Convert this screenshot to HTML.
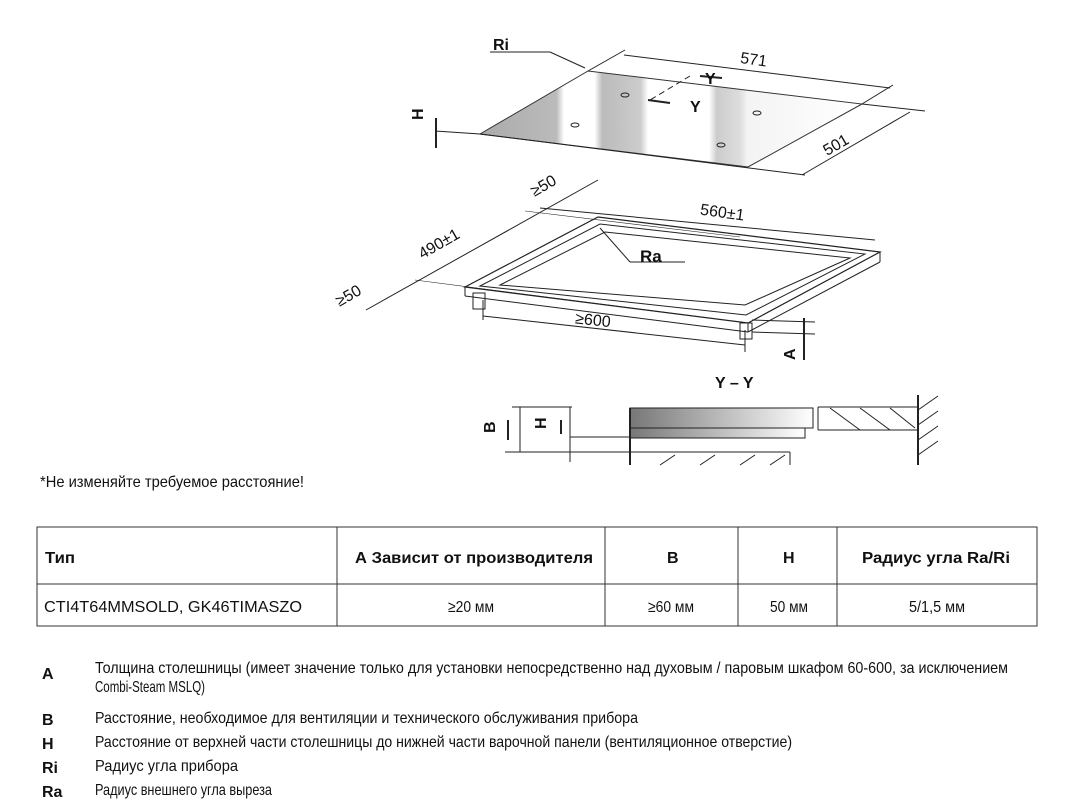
<!DOCTYPE html>
<html><head><meta charset="utf-8"><style>
html,body{margin:0;padding:0;background:#fff;width:1092px;height:805px;overflow:hidden}
svg{display:block}
text{font-family:"Liberation Sans",sans-serif;fill:#111}
</style></head><body>
<svg width="1092" height="805" viewBox="0 0 1092 805" xmlns="http://www.w3.org/2000/svg">
<defs>
<linearGradient id="g1" x1="0" x2="1" y1="0" y2="0">
<stop offset="0" stop-color="#777"/><stop offset="1" stop-color="#fff"/></linearGradient>
<linearGradient id="hob" x1="0" x2="1" y1="0" y2="0">
<stop offset="0" stop-color="#aaa"/><stop offset="0.2" stop-color="#bbb"/><stop offset="0.22" stop-color="#fff"/><stop offset="0.3" stop-color="#fff"/><stop offset="0.32" stop-color="#bbb"/><stop offset="0.42" stop-color="#ccc"/><stop offset="0.44" stop-color="#fff"/><stop offset="0.6" stop-color="#fff"/><stop offset="0.62" stop-color="#ccc"/><stop offset="0.68" stop-color="#ddd"/><stop offset="0.7" stop-color="#f4f4f4"/><stop offset="1" stop-color="#fff"/></linearGradient>
</defs>
<g stroke="#222" fill="none" stroke-width="1">
<polygon points="480,134 588,71 862,104 748,167" fill="url(#hob)" stroke="#333"/>
<line x1="480" y1="134" x2="805" y2="175"/>
<line x1="435" y1="131" x2="480" y2="134"/>
<line x1="436" y1="118" x2="436" y2="148" stroke-width="2"/>
<line x1="490" y1="52" x2="550" y2="52"/><line x1="550" y1="52" x2="585" y2="68"/>
<line x1="624" y1="55" x2="890" y2="88"/>
<line x1="588" y1="71" x2="625" y2="50"/><line x1="862" y1="104" x2="893" y2="85"/>
<line x1="862" y1="104" x2="925" y2="111"/>
<line x1="910" y1="112" x2="802" y2="175"/>
<line x1="690" y1="76" x2="650" y2="100" stroke-dasharray="6,4"/>
<line x1="700" y1="76" x2="722" y2="78" stroke-width="2"/>
<line x1="648" y1="100" x2="670" y2="103" stroke-width="2"/>
<ellipse cx="625" cy="95" rx="4" ry="2"/><ellipse cx="575" cy="125" rx="4" ry="2"/>
<ellipse cx="757" cy="113" rx="4" ry="2"/><ellipse cx="721" cy="145" rx="4" ry="2"/>
<polygon points="465,287 598,217 880,252 748,323" stroke-width="1.2"/>
<polygon points="480,286 600,224 865,254 746,315"/>
<polygon points="500,285 605,232 850,258 745,305"/>
<line x1="465" y1="287" x2="465" y2="296"/><line x1="465" y1="296" x2="748" y2="332"/>
<line x1="748" y1="323" x2="748" y2="332"/><line x1="748" y1="332" x2="880" y2="262"/>
<line x1="880" y1="252" x2="880" y2="262"/>
<rect x="473" y="293" width="12" height="16"/><rect x="740" y="323" width="12" height="16"/>
<line x1="366" y1="310" x2="598" y2="180"/>
<line x1="415" y1="280" x2="748" y2="323" stroke-width="0.6"/>
<line x1="525" y1="211" x2="740" y2="237" stroke-width="0.6"/>
<line x1="540" y1="208" x2="875" y2="240"/>
<line x1="600" y1="228" x2="630" y2="262"/><line x1="630" y1="262" x2="685" y2="262"/>
<line x1="483" y1="300" x2="483" y2="320"/><line x1="745" y1="330" x2="745" y2="352"/>
<line x1="483" y1="316" x2="745" y2="345"/>
<line x1="752" y1="320" x2="815" y2="322"/><line x1="752" y1="332" x2="815" y2="334"/>
<line x1="804" y1="318" x2="804" y2="360" stroke-width="2"/>
<line x1="512" y1="407" x2="572" y2="407"/>
<line x1="520" y1="407" x2="520" y2="452"/><line x1="570" y1="407" x2="570" y2="462"/>
<line x1="505" y1="452" x2="790" y2="452"/>
<line x1="570" y1="437" x2="800" y2="437"/>
<line x1="508" y1="420" x2="508" y2="440" stroke-width="2"/>
<line x1="561" y1="420" x2="561" y2="434" stroke-width="2"/>
<rect x="630" y="408" width="183" height="20" fill="url(#g1)"/>
<rect x="630" y="428" width="175" height="10" fill="url(#g1)"/>
<line x1="630" y1="408" x2="630" y2="465" stroke-width="2"/>
<line x1="790" y1="452" x2="790" y2="465"/>
<line x1="818" y1="407" x2="918" y2="407"/><line x1="818" y1="430" x2="918" y2="430"/>
<line x1="818" y1="407" x2="818" y2="430"/>
<line x1="918" y1="395" x2="918" y2="465" stroke-width="2"/>
<g stroke-width="1">
<line x1="830" y1="408" x2="860" y2="430"/><line x1="860" y1="408" x2="890" y2="430"/><line x1="890" y1="408" x2="915" y2="428"/>
<line x1="918" y1="410" x2="938" y2="396"/><line x1="918" y1="425" x2="938" y2="411"/><line x1="918" y1="440" x2="938" y2="426"/><line x1="918" y1="455" x2="938" y2="441"/>
<line x1="660" y1="465" x2="675" y2="455"/><line x1="700" y1="465" x2="715" y2="455"/><line x1="740" y1="465" x2="755" y2="455"/><line x1="770" y1="465" x2="785" y2="455"/>
</g>
<rect x="37" y="527" width="1000" height="99" stroke="#333"/>
<line x1="37" y1="584" x2="1037" y2="584" stroke="#333"/>
<line x1="337" y1="527" x2="337" y2="626" stroke="#333"/>
<line x1="605" y1="527" x2="605" y2="626" stroke="#333"/>
<line x1="738" y1="527" x2="738" y2="626" stroke="#333"/>
<line x1="837" y1="527" x2="837" y2="626" stroke="#333"/>
</g>
<g font-size="16">
<text x="493" y="50" font-weight="bold" font-size="16">Ri</text>
<text x="740" y="65" transform="rotate(8 755 62)">571</text>
<text x="705" y="84" font-weight="bold">Y</text>
<text x="690" y="112" font-weight="bold">Y</text>
<text x="820" y="150" transform="rotate(-30 835 140)">501</text>
<text x="410" y="113" transform="rotate(-90 420 110)" font-weight="bold">H</text>
<text x="700" y="218" transform="rotate(8 725 214)">560±1</text>
<text x="415" y="248" transform="rotate(-30 440 240)">490±1</text>
<text x="530" y="190" transform="rotate(-30 545 185)">≥50</text>
<text x="335" y="300" transform="rotate(-30 350 295)">≥50</text>
<text x="640" y="262" font-weight="bold" font-size="17">Ra</text>
<text x="575" y="325" transform="rotate(6 590 322)">≥600</text>
<text x="780" y="355" transform="rotate(-90 790 350)" font-weight="bold">A</text>
<text x="715" y="388" font-weight="bold" font-size="16">Y – Y</text>
<text x="485" y="433" transform="rotate(-90 490 428)" font-weight="bold">B</text>
<text x="537" y="428" transform="rotate(-90 542 424)" font-weight="bold">H</text>
</g>
<g font-size="16">
<text x="40" y="487" textLength="264" lengthAdjust="spacingAndGlyphs">*Не изменяйте требуемое расстояние!</text>
<text x="45" y="563" font-weight="bold" textLength="30" lengthAdjust="spacingAndGlyphs">Тип</text>
<text x="355" y="563" font-weight="bold" textLength="238" lengthAdjust="spacingAndGlyphs">А Зависит от производителя</text>
<text x="667" y="563" font-weight="bold">B</text>
<text x="783" y="563" font-weight="bold">H</text>
<text x="862" y="563" font-weight="bold" textLength="148" lengthAdjust="spacingAndGlyphs">Радиус угла Ra/Ri</text>
<text x="44" y="612" textLength="258" lengthAdjust="spacingAndGlyphs">CTI4T64MMSOLD, GK46TIMASZO</text>
<text x="448" y="612" textLength="46" lengthAdjust="spacingAndGlyphs">≥20 мм</text>
<text x="648" y="612" textLength="46" lengthAdjust="spacingAndGlyphs">≥60 мм</text>
<text x="770" y="612" textLength="38" lengthAdjust="spacingAndGlyphs">50 мм</text>
<text x="909" y="612" textLength="56" lengthAdjust="spacingAndGlyphs">5/1,5 мм</text>
<text x="42" y="679" font-weight="bold">A</text>
<text x="95" y="673" textLength="913" lengthAdjust="spacingAndGlyphs">Толщина столешницы (имеет значение только для установки непосредственно над духовым / паровым шкафом 60-600,  за исключением</text>
<text x="95" y="692" textLength="110" lengthAdjust="spacingAndGlyphs">Combi-Steam MSLQ)</text>
<text x="42" y="725" font-weight="bold">B</text>
<text x="95" y="723" textLength="543" lengthAdjust="spacingAndGlyphs">Расстояние, необходимое для вентиляции и технического обслуживания  прибора</text>
<text x="42" y="749" font-weight="bold">H</text>
<text x="95" y="747" textLength="697" lengthAdjust="spacingAndGlyphs">Расстояние от верхней части столешницы до нижней части варочной панели (вентиляционное  отверстие)</text>
<text x="42" y="773" font-weight="bold">Ri</text>
<text x="95" y="771" textLength="143" lengthAdjust="spacingAndGlyphs">Радиус угла прибора</text>
<text x="42" y="797" font-weight="bold">Ra</text>
<text x="95" y="795" textLength="177" lengthAdjust="spacingAndGlyphs">Радиус внешнего угла выреза</text>
</g>
</svg>
</body></html>
